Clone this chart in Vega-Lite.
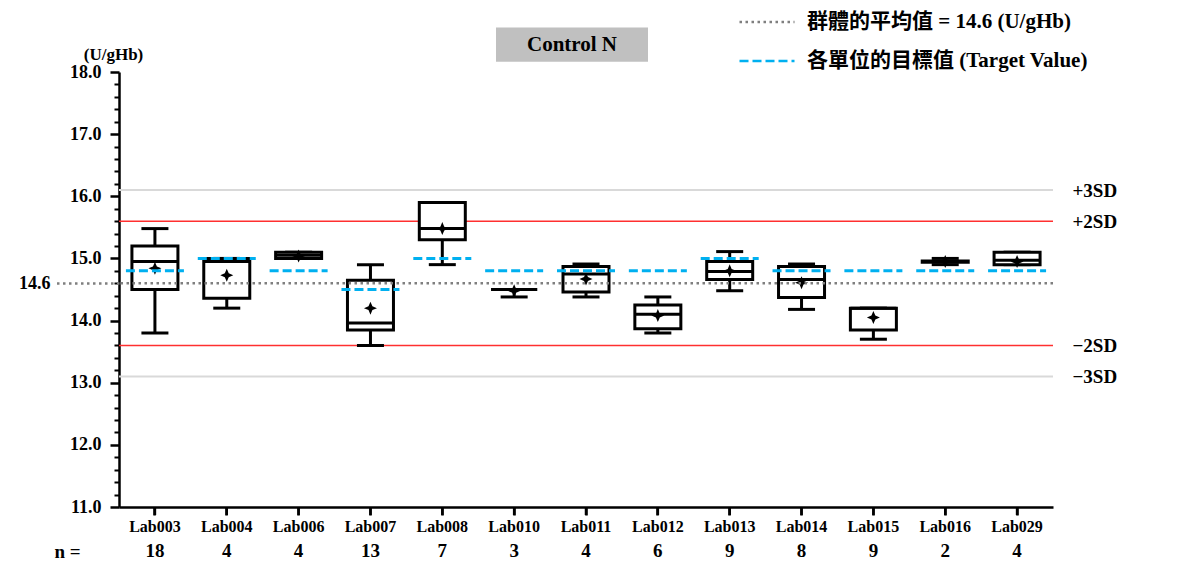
{
  "$schema": "https://vega.github.io/schema/vega-lite/v6.json",
  "width": 934,
  "height": 435,
  "autosize": {"type": "none"},
  "padding": {"left": 119, "top": 72, "right": 128, "bottom": 55},
  "background": "white",
  "config": {"view": {"stroke": null}, "font": "Liberation Serif"},
  "datasets": {
    "labs": [
      {"lab": "Lab003", "n": 18, "min": 13.8, "q1": 14.5, "median": 14.95, "q3": 15.2, "max": 15.48, "mean": 14.84, "target": 14.8},
      {"lab": "Lab004", "n": 4, "min": 14.2, "q1": 14.36, "median": 14.95, "q3": 15.0, "max": 15.0, "mean": 14.73, "target": 15.0},
      {"lab": "Lab006", "n": 4, "min": 15.0, "q1": 15.0, "median": 15.05, "q3": 15.1, "max": 15.1, "mean": 15.04, "target": 14.8},
      {"lab": "Lab007", "n": 13, "min": 13.6, "q1": 13.85, "median": 13.96, "q3": 14.65, "max": 14.9, "mean": 14.2, "target": 14.5},
      {"lab": "Lab008", "n": 7, "min": 14.9, "q1": 15.3, "median": 15.48, "q3": 15.9, "max": 15.9, "mean": 15.48, "target": 15.0},
      {"lab": "Lab010", "n": 3, "min": 14.38, "q1": 14.5, "median": 14.5, "q3": 14.5, "max": 14.5, "mean": 14.48, "target": 14.8},
      {"lab": "Lab011", "n": 4, "min": 14.38, "q1": 14.46, "median": 14.75, "q3": 14.87, "max": 14.91, "mean": 14.67, "target": 14.8},
      {"lab": "Lab012", "n": 6, "min": 13.8, "q1": 13.87, "median": 14.1, "q3": 14.25, "max": 14.38, "mean": 14.08, "target": 14.8},
      {"lab": "Lab013", "n": 9, "min": 14.48, "q1": 14.66, "median": 14.79, "q3": 14.95, "max": 15.11, "mean": 14.8, "target": 15.0},
      {"lab": "Lab014", "n": 8, "min": 14.18, "q1": 14.37, "median": 14.66, "q3": 14.87, "max": 14.91, "mean": 14.61, "target": 14.8},
      {"lab": "Lab015", "n": 9, "min": 13.7, "q1": 13.85, "median": 14.2, "q3": 14.2, "max": 14.2, "mean": 14.05, "target": 14.8},
      {"lab": "Lab016", "n": 2, "min": 14.9, "q1": 14.94, "median": 14.95, "q3": 14.96, "max": 15.0, "mean": 14.95, "target": 14.8},
      {"lab": "Lab029", "n": 4, "min": 14.9, "q1": 14.9, "median": 14.97, "q3": 15.1, "max": 15.1, "mean": 14.95, "target": 14.8}
    ],
    "sd3": [{"limit": "+3SD", "value": 16.1}, {"limit": "−3SD", "value": 13.1}],
    "sd2": [{"limit": "+2SD", "value": 15.6}, {"limit": "−2SD", "value": 13.6}],
    "one": [{}]
  },
  "resolve": {"axis": {"y": "independent"}},
  "layer": [
    {
      "data": {"name": "sd3"},
      "mark": {"type": "rule", "stroke": "#d9d9d9", "strokeWidth": 2},
      "encoding": {
        "y": {
          "field": "value", "type": "quantitative",
          "scale": {"domain": [11, 18], "nice": false, "zero": false},
          "axis": {
            "orient": "left", "values": [11, 12, 13, 14, 15, 16, 17, 18], "format": ".1f",
            "grid": false, "labelFont": "Liberation Serif", "labelFontSize": 18, "labelFontWeight": "bold", "labelColor": "black",
            "tickSize": 9, "tickWidth": 2.5, "tickColor": "black", "labelPadding": 9,
            "domainColor": "black", "domainWidth": 2.5,
            "title": "(U/gHb)", "titleAngle": 0, "titleX": -6, "titleY": -18, "titleAlign": "center", "titleBaseline": "middle",
            "titleFont": "Liberation Serif", "titleFontSize": 17, "titleFontWeight": "bold", "titleColor": "black"
          }
        }
      }
    },
    {
      "data": {"name": "sd2"},
      "mark": {"type": "rule", "stroke": "#ff3030", "strokeWidth": 1.5},
      "encoding": {
        "y": {
          "field": "value", "type": "quantitative",
          "axis": {
            "orient": "right", "values": [16.1, 15.6, 13.6, 13.1],
            "labelExpr": "datum.value > 16 ? '+3SD' : datum.value > 15 ? '+2SD' : datum.value > 13.5 ? '−2SD' : '−3SD'",
            "ticks": false, "tickSize": 0, "domain": false, "grid": false, "labelPadding": 19,
            "labelFont": "Liberation Serif", "labelFontSize": 19, "labelFontWeight": "bold", "labelColor": "black", "title": null
          }
        }
      }
    },
    {
      "data": {"name": "labs"},
      "mark": {"type": "rule", "stroke": "black", "strokeWidth": 3},
      "encoding": {
        "x": {"field": "lab", "type": "nominal"},
        "y": {
          "field": "min", "type": "quantitative",
          "axis": {
            "orient": "left", "values": [11.2, 11.4, 11.6, 11.8, 12.2, 12.4, 12.6, 12.8, 13.2, 13.4, 13.6, 13.8, 14.2, 14.4, 14.6, 14.8, 15.2, 15.4, 15.6, 15.8, 16.2, 16.4, 16.6, 16.8, 17.2, 17.4, 17.6, 17.8],
            "labels": false, "domain": false, "grid": false, "tickSize": 5, "tickWidth": 2, "tickColor": "black", "title": null
          }
        },
        "y2": {"field": "max"}
      }
    },
    {
      "data": {"name": "labs"},
      "mark": {"type": "rule", "stroke": "black", "strokeWidth": 2.5},
      "encoding": {
        "x": {"field": "lab", "type": "nominal"},
        "y": {"datum": 11, "type": "quantitative", "axis": null},
        "y2": {"datum": 10.87}
      }
    },
    {
      "data": {"name": "labs"},
      "mark": {"type": "tick", "color": "black", "size": 27, "thickness": 3, "opacity": 1},
      "encoding": {
        "x": {"field": "lab", "type": "nominal"},
        "y": {"field": "min", "type": "quantitative", "axis": null}
      }
    },
    {
      "data": {"name": "labs"},
      "mark": {"type": "tick", "color": "black", "size": 27, "thickness": 3, "opacity": 1},
      "encoding": {
        "x": {"field": "lab", "type": "nominal"},
        "y": {"field": "max", "type": "quantitative", "axis": null}
      }
    },
    {
      "data": {"name": "labs"},
      "mark": {"type": "bar", "size": 46, "fill": "white", "stroke": "black", "strokeWidth": 3},
      "encoding": {
        "x": {
          "field": "lab", "type": "nominal",
          "scale": {"domain": ["Lab003", "Lab004", "Lab006", "Lab007", "Lab008", "Lab010", "Lab011", "Lab012", "Lab013", "Lab014", "Lab015", "Lab016", "Lab029"], "paddingInner": 0, "paddingOuter": 0},
          "axis": {
            "orient": "bottom", "labelAngle": 0, "labelAlign": "center", "labelBaseline": "top",
            "labelFont": "Liberation Serif", "labelFontSize": 16, "labelFontWeight": "bold", "labelColor": "black",
            "labelPadding": 3, "ticks": true, "tickSize": 8, "tickWidth": 2.5, "tickColor": "black", "domain": true, "domainColor": "black", "domainWidth": 2.5, "grid": false,
            "title": "n =", "titleX": -52, "titleY": 44, "titleAlign": "center", "titleBaseline": "middle", "titleAngle": 0,
            "titleFont": "Liberation Serif", "titleFontSize": 19, "titleFontWeight": "bold", "titleColor": "black"
          }
        },
        "y": {"field": "q1", "type": "quantitative", "axis": null},
        "y2": {"field": "q3"}
      }
    },
    {
      "data": {"name": "labs"},
      "mark": {"type": "tick", "color": "black", "size": 46, "thickness": 3, "opacity": 1},
      "encoding": {
        "x": {"field": "lab", "type": "nominal"},
        "y": {"field": "median", "type": "quantitative", "axis": null}
      }
    },
    {
      "data": {"name": "labs"},
      "mark": {"type": "point", "shape": "M0,-1L0.3,-0.3L1,0L0.3,0.3L0,1L-0.3,0.3L-1,0L-0.3,-0.3Z", "size": 169, "filled": true, "color": "black", "opacity": 1},
      "encoding": {
        "x": {"field": "lab", "type": "nominal"},
        "y": {"field": "mean", "type": "quantitative", "axis": null}
      }
    },
    {
      "data": {"name": "one"},
      "mark": {"type": "rule", "strokeWidth": 2.5},
      "encoding": {
        "y": {
          "datum": 14.6, "type": "quantitative",
          "axis": {
            "orient": "left", "values": [14.6], "format": ".1f", "grid": false, "domain": false,
            "tickSize": 64, "tickDash": [2.5, 3.5], "tickColor": "#7f7f7f", "tickWidth": 2.5, "labelPadding": 5,
            "labelFont": "Liberation Serif", "labelFontSize": 18, "labelFontWeight": "bold", "labelColor": "black", "title": null
          }
        },
        "color": {
          "datum": "群體的平均值 = 14.6 (U/gHb)", "type": "nominal",
          "scale": {"domain": ["群體的平均值 = 14.6 (U/gHb)", "各單位的目標值 (Target Value)"], "range": ["#7f7f7f", "#00b0f0"]},
          "legend": {"title": null, "orient": "none", "legendX": 619, "legendY": -79, "symbolType": "stroke", "symbolSize": 3025, "symbolStrokeWidth": 2.5, "labelFont": "Liberation Serif, Noto Sans CJK TC", "labelFontSize": 21, "labelFontWeight": "bold", "labelColor": "black", "labelOffset": 11, "rowPadding": -4, "labelLimit": 600}
        },
        "strokeDash": {
          "datum": "群體的平均值 = 14.6 (U/gHb)", "type": "nominal",
          "scale": {"domain": ["群體的平均值 = 14.6 (U/gHb)", "各單位的目標值 (Target Value)"], "range": [[2.5, 3.5], [9, 4]]},
          "legend": {"title": null, "orient": "none", "legendX": 619, "legendY": -79, "symbolType": "stroke", "symbolSize": 3025, "symbolStrokeWidth": 2.5, "labelFont": "Liberation Serif, Noto Sans CJK TC", "labelFontSize": 21, "labelFontWeight": "bold", "labelColor": "black", "labelOffset": 11, "rowPadding": -4, "labelLimit": 600}
        }
      }
    },
    {
      "data": {"name": "labs"},
      "mark": {"type": "point", "shape": "M-1,0L1,0", "size": 3364, "filled": false, "strokeWidth": 3, "opacity": 1},
      "encoding": {
        "x": {"field": "lab", "type": "nominal"},
        "y": {"field": "target", "type": "quantitative", "axis": null},
        "color": {"datum": "各單位的目標值 (Target Value)", "type": "nominal"},
        "strokeDash": {"datum": "各單位的目標值 (Target Value)", "type": "nominal"}
      }
    },
    {
      "data": {"name": "one"},
      "mark": {"type": "point", "shape": "M-1,-0.226L1,-0.226L1,0.226L-1,0.226Z", "size": 23104, "filled": true, "color": "#c0c0c0", "opacity": 1, "xOffset": -14},
      "encoding": {
        "x": {"datum": "Lab011", "type": "nominal"},
        "y": {"datum": 18.44, "type": "quantitative", "axis": null}
      }
    },
    {
      "data": {"name": "one"},
      "mark": {"type": "text", "text": "Control N", "font": "Liberation Serif", "fontSize": 21, "fontWeight": "bold", "color": "black", "align": "center", "baseline": "middle", "xOffset": -14},
      "encoding": {
        "x": {"datum": "Lab011", "type": "nominal"},
        "y": {"datum": 18.44, "type": "quantitative", "axis": null}
      }
    },
    {
      "data": {"name": "labs"},
      "mark": {"type": "text", "font": "Liberation Serif", "fontSize": 19, "fontWeight": "bold", "color": "black", "align": "center", "baseline": "middle"},
      "encoding": {
        "x": {"field": "lab", "type": "nominal"},
        "y": {"datum": 10.29, "type": "quantitative", "axis": null},
        "text": {"field": "n", "type": "quantitative"}
      }
    }
  ]
}
